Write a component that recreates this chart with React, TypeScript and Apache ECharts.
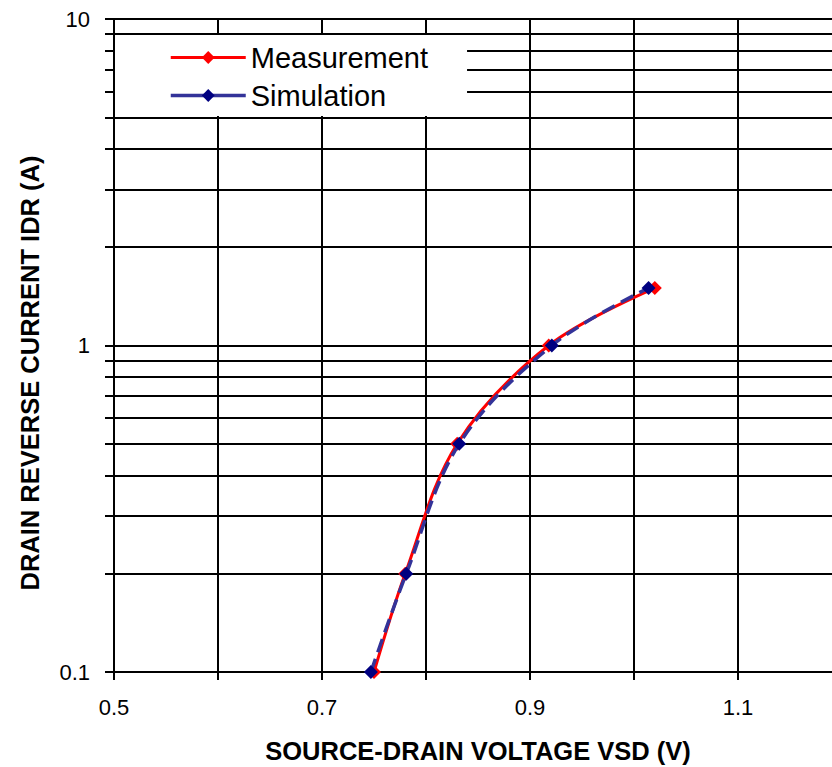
import React, { useEffect, useRef } from "react";
import * as echarts from "echarts";

const measurementX = [0.75, 0.78, 0.83, 0.918, 1.02];
const measurementY = [0.1, 0.2, 0.5, 1.0, 1.5];
const simulationX = [0.747, 0.781, 0.832, 0.921, 1.014];
const simulationY = [0.1, 0.2, 0.5, 1.0, 1.5];
const yTickValues = [
  0.1, 0.2, 0.3, 0.4, 0.5, 0.6, 0.7, 0.8, 0.9,
  1, 2, 3, 4, 5, 6, 7, 8, 9, 10,
];
const yLabelValues = [0.1, 1, 10];
const seriesNames = ["Measurement", "Simulation"];
const xTitle = "SOURCE-DRAIN VOLTAGE VSD (V)";
const yTitle = "DRAIN REVERSE CURRENT IDR (A)";

const FONT = "'Liberation Sans', Arial, sans-serif";

export default function App() {
  const ref = useRef<HTMLDivElement>(null);
  useEffect(() => {
    if (!ref.current) return;
    const chart = echarts.init(ref.current, undefined, { renderer: "svg" });
    const mData = measurementX.map((x, i) => [x, measurementY[i]]);
    const sData = simulationX.map((x, i) => [x, simulationY[i]]);
    chart.setOption({
      animation: false,
      backgroundColor: "#fff",
      textStyle: { fontFamily: FONT },
      grid: {
        left: 114,
        top: 19,
        width: 728,
        height: 653,
        containLabel: false,
        outerBoundsMode: "none",
      },
      legend: {
        data: [
          {
            name: seriesNames[0],
            itemStyle: { color: "#FF0000" },
            lineStyle: { color: "#FF0000", width: 3, type: "solid" },
          },
          {
            name: seriesNames[1],
            itemStyle: { color: "#000080" },
            lineStyle: { color: "#333399", width: 3.5, type: "solid" },
          },
        ],
        orient: "vertical",
        left: 115,
        top: 35,
        padding: [8, 39, 6, 54],
        backgroundColor: "#fff",
        itemWidth: 75,
        itemHeight: 16,
        itemGap: 9,
        z: 10,
        textStyle: { fontSize: 29, color: "#000", fontFamily: FONT, lineHeight: 29 },
      },
      xAxis: {
        type: "value",
        min: 0.5,
        max: 1.2,
        interval: 0.1,
        axisLine: { show: true, lineStyle: { color: "#000", width: 2 } },
        axisTick: { show: true, inside: false, length: 8, lineStyle: { color: "#000", width: 2 } },
        axisLabel: {
          fontSize: 22,
          color: "#000",
          fontFamily: FONT,
          margin: 24,
          formatter: (v: number) => (Math.round(v * 10) % 2 === 1 ? v.toFixed(1) : ""),
        },
        splitLine: { show: true, lineStyle: { color: "#000", width: 2 } },
      },
      yAxis: {
        type: "log",
        logBase: 10,
        min: 0.1,
        max: 10,
        axisLine: { show: true, onZero: false, lineStyle: { color: "#000", width: 2 } },
        axisTick: {
          show: true,
          length: 9,
          customValues: yTickValues,
          lineStyle: { color: "#000", width: 2 },
        },
        axisLabel: {
          fontSize: 22,
          color: "#000",
          fontFamily: FONT,
          margin: 24,
          customValues: yLabelValues,
          formatter: (v: number) => String(v),
        },
        splitLine: { show: true, lineStyle: { color: "#000", width: 2 } },
      },
      graphic: [
        {
          type: "text",
          x: 478,
          y: 751,
          style: {
            text: xTitle,
            fontSize: 25.5,
            fontWeight: "bold",
            fontFamily: FONT,
            fill: "#000",
            align: "center",
            verticalAlign: "middle",
          },
        },
        {
          type: "text",
          x: 30,
          y: 373,
          rotation: Math.PI / 2,
          style: {
            text: yTitle,
            fontSize: 25.5,
            fontWeight: "bold",
            fontFamily: FONT,
            fill: "#000",
            align: "center",
            verticalAlign: "middle",
          },
        },
      ],
      series: [
        {
          name: seriesNames[0],
          type: "line",
          data: mData,
          smooth: 0.35,
          symbol: "diamond",
          symbolSize: 14,
          itemStyle: { color: "#FF0000" },
          lineStyle: { color: "#FF0000", width: 3 },
          z: 3,
        },
        {
          name: seriesNames[1],
          type: "line",
          data: sData,
          smooth: 0.35,
          symbol: "diamond",
          symbolSize: 14,
          itemStyle: { color: "#000080" },
          lineStyle: { color: "#333399", width: 3.5, type: [14, 7] },
          z: 4,
        },
      ],
    });
    return () => chart.dispose();
  }, []);
  return (
    <div
      ref={ref}
      style={{ position: "absolute", left: 0, top: 0, width: 832, height: 767 }}
    />
  );
}
